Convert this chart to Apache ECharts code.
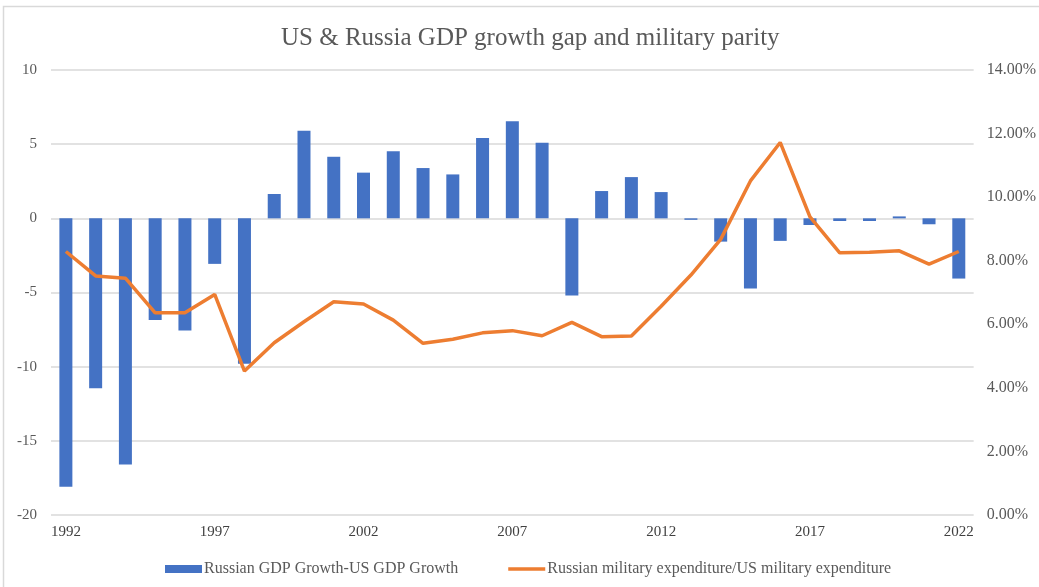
<!DOCTYPE html>
<html>
<head>
<meta charset="utf-8">
<script src="https://cdn.jsdelivr.net/npm/echarts@6/dist/echarts.min.js"></script>
<style>
  html, body { margin: 0; padding: 0; background: #fff; }
  #chart { width: 1039px; height: 587px; }
</style>
</head>
<body>
<div id="chart"></div>
<script>
// Years on the category axis
const years = [
  '1992','1993','1994','1995','1996','1997','1998','1999','2000','2001',
  '2002','2003','2004','2005','2006','2007','2008','2009','2010','2011',
  '2012','2013','2014','2015','2016','2017','2018','2019','2020','2021','2022'
];

// Russian GDP growth minus US GDP growth (percentage points)
const gdpGap = [
  -18.1, -11.45, -16.6, -6.85, -7.56, -3.07, -9.8, 1.64, 5.9, 4.15,
  3.08, 4.53, 3.39, 2.96, 5.41, 6.55, 5.1, -5.2, 1.84, 2.78,
  1.77, -0.1, -1.57, -4.73, -1.52, -0.45, -0.18, -0.18, 0.13, -0.4, -4.06
];

// Russian military expenditure as a share of US military expenditure (%)
const milRatio = [
  8.29, 7.52, 7.45, 6.36, 6.36, 6.94, 4.53, 5.42, 6.08, 6.71,
  6.64, 6.13, 5.40, 5.53, 5.73, 5.80, 5.64, 6.06, 5.61, 5.63,
  6.57, 7.55, 8.67, 10.51, 11.72, 9.38, 8.25, 8.27, 8.31, 7.89, 8.29
];

const gapName = 'Russian GDP Growth-US GDP Growth';
const ratioName = 'Russian military expenditure/US military expenditure';

const serif = '"Liberation Serif", "DejaVu Serif", serif';
const grey = '#595959';
const gridGrey = '#d9d9d9';

// Plain thick stroke used as the line series' legend key
const lineKey = 'path://M0,0 M0,2.3 L37,2.3 L37,5.7 L0,5.7 Z M37,8';

const chart = echarts.init(document.getElementById('chart'));
chart.setOption({
  animation: false,
  backgroundColor: '#fff',
  graphic: [{
    type: 'rect',
    shape: { x: 3.5, y: 6.5, width: 1100, height: 600 },
    style: { fill: 'none', stroke: gridGrey, lineWidth: 1.5 },
    silent: true,
    z: -10
  }],
  title: {
    text: 'US & Russia GDP growth gap and military parity',
    left: 276,
    top: 21,
    textStyle: { fontFamily: serif, fontSize: 25, fontWeight: 'normal', color: grey }
  },
  legend: {
    left: 160,
    top: 556,
    itemGap: 50,
    itemWidth: 37,
    itemHeight: 8,
    textStyle: { fontFamily: serif, fontSize: 16, color: grey, padding: [0, 0, 0, -3] },
    data: [
      { name: gapName, icon: 'rect' },
      { name: ratioName, icon: lineKey }
    ]
  },
  grid: { left: 51, right: 64, top: 70, bottom: 72, containLabel: false },
  xAxis: {
    type: 'category',
    data: years,
    axisLine: { show: false },
    axisTick: { show: false },
    axisLabel: {
      interval: 4,
      margin: 10,
      fontFamily: serif,
      fontSize: 15,
      color: '#404040'
    }
  },
  yAxis: [
    {
      type: 'value',
      min: -20,
      max: 10,
      interval: 5,
      axisLine: { show: false },
      axisTick: { show: false },
      splitLine: { lineStyle: { color: gridGrey, width: 1.5 } },
      axisLabel: { margin: 14, fontFamily: serif, fontSize: 15, color: grey }
    },
    {
      type: 'value',
      min: 0,
      max: 14,
      interval: 2,
      position: 'right',
      axisLine: { show: false },
      axisTick: { show: false },
      splitLine: { show: false },
      axisLabel: {
        margin: 13,
        fontFamily: serif,
        fontSize: 16,
        color: grey,
        formatter: v => v.toFixed(2) + '%'
      }
    }
  ],
  series: [
    {
      name: gapName,
      type: 'bar',
      yAxisIndex: 0,
      data: gdpGap,
      barWidth: 13,
      itemStyle: { color: '#4472C4' }
    },
    {
      name: ratioName,
      type: 'line',
      yAxisIndex: 1,
      data: milRatio,
      symbol: 'none',
      lineStyle: { color: '#ED7D31', width: 3.5 },
      itemStyle: { color: '#ED7D31' },
      z: 3
    }
  ]
});
</script>
</body>
</html>
